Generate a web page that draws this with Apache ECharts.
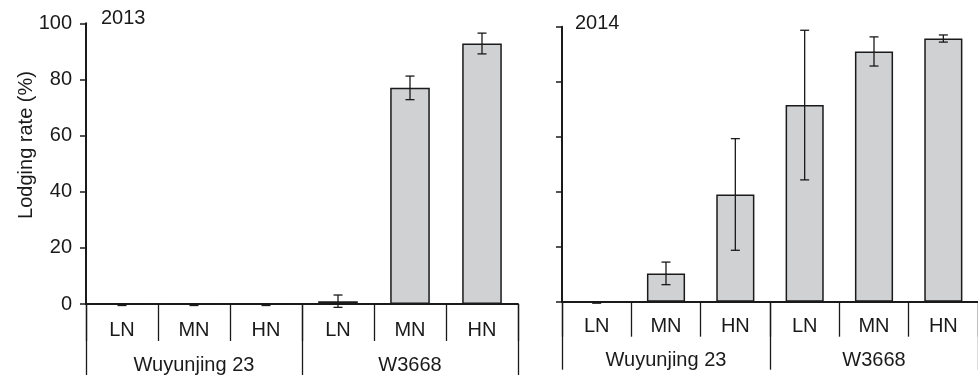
<!DOCTYPE html>
<html>
<head>
<meta charset="utf-8">
<script src="https://cdn.jsdelivr.net/npm/echarts@6/dist/echarts.min.js"></script>
<style>
html,body{margin:0;padding:0;background:#fff;}
#chart{width:978px;height:376px;}
</style>
</head>
<body>
<div id="chart"></div>
<script>
// ---- data ----
var treatments = ['LN', 'MN', 'HN', 'LN', 'MN', 'HN'];
var cultivars = ['Wuyunjing 23', 'W3668'];
var yTicks = [0, 20, 40, 60, 80, 100];
var panelTitles = ['2013', '2014'];
var values2013 = [0, 0, 0, 1.0, 77.0, 92.8];
var errors2013 = [0, 0, 0, 2.2, 4.2, 3.7];
var values2014 = [0, 10.3, 39.0, 71.5, 91.0, 95.7];
var errors2014 = [0, 4.1, 20.3, 27.2, 5.3, 1.3];
var yAxisTitle = 'Lodging rate (%)';

var FONT = '"Liberation Sans", Arial, sans-serif';
var INK = '#1a1a1a';
var BAR = '#d0d1d3';

var chart = echarts.init(document.getElementById('chart'), null, {renderer: 'canvas'});

function errSeries(xi, yi, vals, errs) {
  return {
    type: 'custom',
    xAxisIndex: xi,
    yAxisIndex: yi,
    z: 10,
    silent: true,
    data: vals.map(function (v, i) { return [i, v, errs[i]]; }),
    renderItem: function (params, api) {
      var i = api.value(0), v = api.value(1), e = api.value(2);
      var top = api.coord([i, v + e]);
      var bot = api.coord([i, v - e]);
      var hw = 4.5;
      var st = {stroke: INK, lineWidth: 1.3};
      return {
        type: 'group',
        children: [
          {type: 'line', shape: {x1: top[0], y1: top[1], x2: bot[0], y2: bot[1]}, style: st},
          {type: 'line', shape: {x1: top[0] - hw, y1: top[1], x2: top[0] + hw, y2: top[1]}, style: st},
          {type: 'line', shape: {x1: bot[0] - hw, y1: bot[1] + (e === 0 ? 1.5 : 0), x2: bot[0] + hw, y2: bot[1] + (e === 0 ? 1.5 : 0)}, style: st}
        ]
      };
    }
  };
}

function yAxisDef(gi, showLabels) {
  return {
    type: 'value', gridIndex: gi, min: yTicks[0], max: yTicks[yTicks.length - 1], interval: yTicks[1] - yTicks[0],
    axisLine: {show: true, lineStyle: {color: INK, width: 2}},
    axisTick: {show: true, inside: false, length: 6, lineStyle: {color: INK, width: 1.5}},
    axisLabel: {show: showLabels, margin: 14, color: INK, fontSize: 20, fontFamily: FONT},
    splitLine: {show: false}
  };
}

function catAxisDef(gi, tickLen, margin) {
  return {
    type: 'category', gridIndex: gi, data: treatments, position: 'bottom',
    axisLine: {show: true, onZero: false, lineStyle: {color: INK, width: 2}},
    axisTick: {show: true, inside: false, length: tickLen, alignWithLabel: false, lineStyle: {color: INK, width: 1.3}},
    axisLabel: {show: true, margin: margin, color: INK, fontSize: 20, fontFamily: FONT, interval: 0},
    splitLine: {show: false}
  };
}

function groupAxisDef(gi, tickLen, margin) {
  return {
    type: 'category', gridIndex: gi, data: cultivars, position: 'bottom',
    axisLine: {show: false},
    axisTick: {show: true, inside: false, length: tickLen, lineStyle: {color: INK, width: 1.3}},
    axisLabel: {show: true, margin: margin, color: INK, fontSize: 20, fontFamily: FONT, interval: 0},
    splitLine: {show: false}
  };
}

var option = {
  animation: false,
  backgroundColor: '#fff',
  grid: [
    {left: 86, top: 23.3, width: 432, height: 280.7, containLabel: false},
    {left: 562, top: 26.7, width: 426, height: 275, containLabel: false}
  ],
  xAxis: [
    catAxisDef(0, 37, 16.5),
    groupAxisDef(0, 71, 51),
    catAxisDef(1, 35, 14.5),
    groupAxisDef(1, 68, 49)
  ],
  yAxis: [yAxisDef(0, true), yAxisDef(1, false)],
  series: [
    {type: 'bar', xAxisIndex: 0, yAxisIndex: 0, data: values2013, barWidth: '55%',
      itemStyle: {color: BAR, borderColor: INK, borderWidth: 1.5}},
    errSeries(0, 0, values2013, errors2013),
    {type: 'bar', xAxisIndex: 2, yAxisIndex: 1, data: values2014, barWidth: '55%',
      itemStyle: {color: BAR, borderColor: INK, borderWidth: 1.5}},
    errSeries(2, 1, values2014, errors2014)
  ],
  graphic: [
    {type: 'text', left: 101, top: 8, style: {text: panelTitles[0], fill: INK, fontSize: 20, fontFamily: FONT}},
    {type: 'text', left: 575, top: 13, style: {text: panelTitles[1], fill: INK, fontSize: 20, fontFamily: FONT}},
    {type: 'text', x: 26, y: 145, rotation: Math.PI / 2,
      style: {text: yAxisTitle, fill: INK, fontSize: 20, fontFamily: FONT, align: 'center', verticalAlign: 'middle'}}
  ]
};
chart.setOption(option);
</script>
</body>
</html>
